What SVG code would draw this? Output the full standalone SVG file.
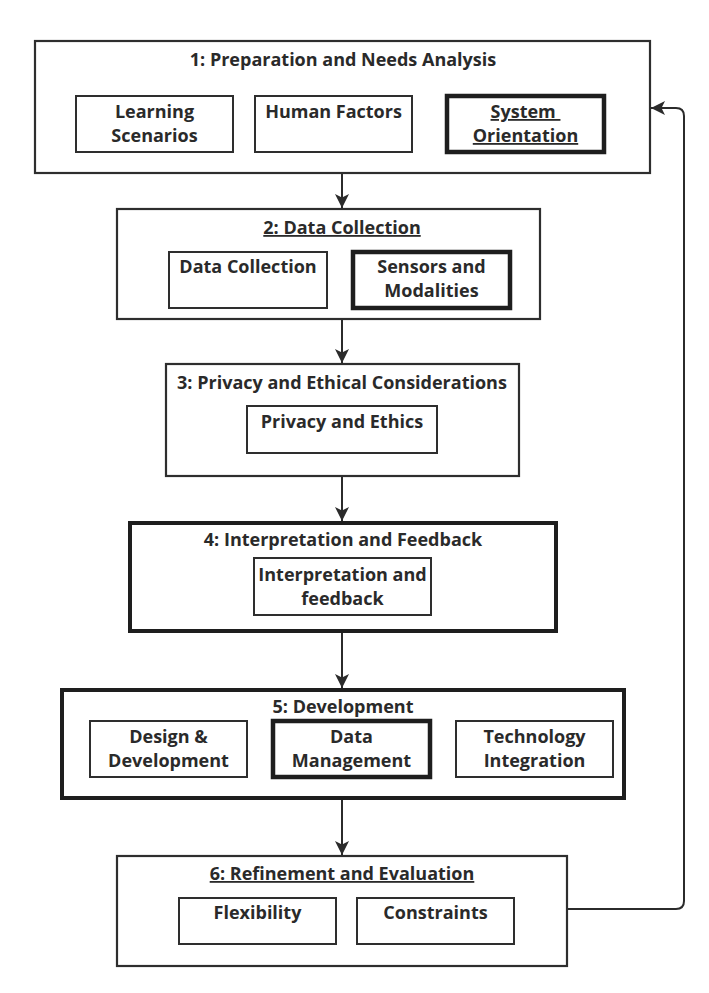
<svg xmlns="http://www.w3.org/2000/svg" width="709" height="993" viewBox="0 0 709 993">
  <defs>
    <marker id="arrow" viewBox="0 0 14 14" refX="14" refY="7" markerWidth="14" markerHeight="14" markerUnits="userSpaceOnUse" orient="auto">
      <path d="M0,0 L14,7 L0,14 L3.5,7 Z" fill="#2b2b2b"/>
    </marker>
  </defs>
  <style>
    .stage { fill: #ffffff; stroke: #2e2e2e; stroke-width: 2.2; }
    .stage.bold { stroke: #1e1e1e; stroke-width: 4; }
    .item { fill: #ffffff; stroke: #2e2e2e; stroke-width: 2; }
    .item.bold { stroke: #1e1e1e; stroke-width: 4.5; }
    text { font-family: "Open Sans", "Noto Sans", "DejaVu Sans", sans-serif; font-weight: bold; font-size: 18px; fill: #2a2a2a; text-anchor: middle; }
    .u { text-decoration: underline; }
    .link { fill: none; stroke: #2b2b2b; stroke-width: 2; }
  </style>
  <rect width="709" height="993" fill="#ffffff"/>

  <!-- Stage 1 -->
  <g id="stage1">
    <rect class="stage" x="35" y="41" width="615" height="132"/>
    <text x="343" y="66">1: Preparation and Needs Analysis</text>
    <g id="learning-scenarios">
      <rect class="item" x="76" y="96" width="157" height="56"/>
      <text x="154.5" y="118">Learning</text>
      <text x="154.5" y="142">Scenarios</text>
    </g>
    <g id="human-factors">
      <rect class="item" x="255" y="96" width="157" height="56"/>
      <text x="333.5" y="118">Human Factors</text>
    </g>
    <g id="system-orientation">
      <rect class="item bold" x="447" y="96" width="157" height="56"/>
      <text class="u" x="525.5" y="118" xml:space="preserve">System </text>
      <text class="u" x="525.5" y="142">Orientation</text>
    </g>
  </g>

  <!-- Stage 2 -->
  <g id="stage2">
    <rect class="stage" x="117" y="209" width="423" height="110"/>
    <text class="u" x="342" y="234">2: Data Collection</text>
    <g id="data-collection">
      <rect class="item" x="169" y="252" width="158" height="56"/>
      <text x="248" y="273">Data Collection</text>
    </g>
    <g id="sensors-modalities">
      <rect class="item bold" x="353" y="252" width="157" height="56"/>
      <text x="431.5" y="273">Sensors and</text>
      <text x="431.5" y="297">Modalities</text>
    </g>
  </g>

  <!-- Stage 3 -->
  <g id="stage3">
    <rect class="stage" x="166" y="364" width="353" height="112"/>
    <text x="342" y="389">3: Privacy and Ethical Considerations</text>
    <g id="privacy-ethics">
      <rect class="item" x="247" y="406" width="190" height="47"/>
      <text x="342" y="428">Privacy and Ethics</text>
    </g>
  </g>

  <!-- Stage 4 -->
  <g id="stage4">
    <rect class="stage bold" x="130" y="523" width="426" height="108"/>
    <text x="343" y="546">4: Interpretation and Feedback</text>
    <g id="interpretation-feedback">
      <rect class="item" x="254" y="558" width="177" height="57"/>
      <text x="342.5" y="581">Interpretation and</text>
      <text x="342.5" y="605">feedback</text>
    </g>
  </g>

  <!-- Stage 5 -->
  <g id="stage5">
    <rect class="stage bold" x="62" y="690" width="562" height="108"/>
    <text x="343" y="713">5: Development</text>
    <g id="design-development">
      <rect class="item" x="90" y="721" width="157" height="56"/>
      <text x="168.5" y="743">Design &amp;</text>
      <text x="168.5" y="767">Development</text>
    </g>
    <g id="data-management">
      <rect class="item bold" x="273" y="721" width="157" height="56"/>
      <text x="351.5" y="743">Data</text>
      <text x="351.5" y="767">Management</text>
    </g>
    <g id="technology-integration">
      <rect class="item" x="456" y="721" width="157" height="56"/>
      <text x="534.5" y="743">Technology</text>
      <text x="534.5" y="767">Integration</text>
    </g>
  </g>

  <!-- Stage 6 -->
  <g id="stage6">
    <rect class="stage" x="117" y="856" width="450" height="110"/>
    <text class="u" x="342" y="880">6: Refinement and Evaluation</text>
    <g id="flexibility">
      <rect class="item" x="179" y="898" width="157" height="46"/>
      <text x="257.5" y="919">Flexibility</text>
    </g>
    <g id="constraints">
      <rect class="item" x="357" y="898" width="157" height="46"/>
      <text x="435.5" y="919">Constraints</text>
    </g>
  </g>

  <!-- Connectors -->
  <g id="connectors">
    <path class="link" d="M342,174 V208" marker-end="url(#arrow)"/>
    <path class="link" d="M342,320 V363" marker-end="url(#arrow)"/>
    <path class="link" d="M342,477 V521" marker-end="url(#arrow)"/>
    <path class="link" d="M342,633 V688" marker-end="url(#arrow)"/>
    <path class="link" d="M342,800 V855" marker-end="url(#arrow)"/>
    <path class="link" d="M568,909 H676 Q684,909 684,901 V116 Q684,108 676,108 H651" marker-end="url(#arrow)"/>
  </g>
</svg>
